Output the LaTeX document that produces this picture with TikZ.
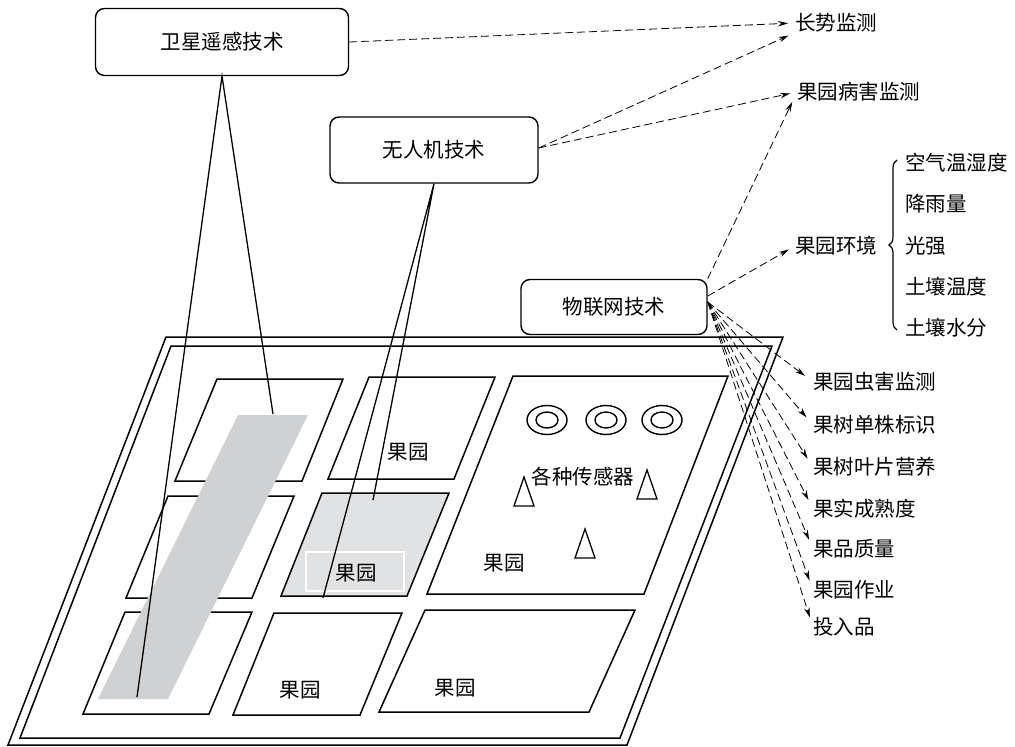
\documentclass[tikz,border=0pt]{standalone}
\usepackage{fontspec}
\setmainfont{Noto Sans CJK SC}
\usetikzlibrary{arrows.meta,decorations.pathreplacing}
\definecolor{stripgray}{RGB}{208,209,211}
\definecolor{plotgray}{RGB}{225,226,228}
\tikzset{
  techbox/.style={draw,line width=1.4pt,rounded corners=9pt},
  plot/.style={draw,line width=1.5pt},
  feed/.style={line width=1.3pt},
  link/.style={line width=0.8pt,dash pattern=on 8pt off 4pt,-{Stealth[length=10pt,width=5.5pt]},shorten >=7pt},
  item/.style={anchor=west,inner sep=0pt},
}
\begin{document}
\begin{tikzpicture}[x=1pt,y=-1pt]\fontsize{20.5}{24}\selectfont
\useasboundingbox (0,0) rectangle (1015,747);
\node[techbox,minimum width=253pt,minimum height=67pt] (sat) at (222,42) {卫星遥感技术};
\node[techbox,minimum width=208pt,minimum height=66pt] (uav) at (434,150) {无人机技术};
\node[techbox,minimum width=186pt,minimum height=55pt] (iot) at (614,307) {物联网技术};
% frame
\draw[plot] (166,337) -- (783,337) -- (627,745) -- (8,745) -- cycle;
\draw[plot] (171,346) -- (772,346) -- (620,738) -- (20,738) -- cycle;
% plots
\draw[plot] (217,379) -- (343,379) -- (302,481) -- (175,481) -- cycle;
\draw[plot] (369,377) -- (495,377) -- (454,479) -- (328,479) -- cycle;
\draw[plot] (513,376) -- (728,376) -- (644,594) -- (427,594) -- cycle;
\draw[plot] (168,496) -- (294,496) -- (252,598) -- (126,598) -- cycle;
\draw[plot,fill=plotgray] (322,493) -- (449,493) -- (407,596) -- (281,596) -- cycle;
\draw[plot] (125,612) -- (252,612) -- (209,714) -- (83,714) -- cycle;
\draw[plot] (274,613) -- (402,613) -- (360,715) -- (233,715) -- cycle;
\draw[plot] (425,610) -- (635,610) -- (589,712) -- (379,712) -- cycle;
\fill[stripgray] (238,415) -- (308,415) -- (168,699) -- (98,699) -- cycle;
\draw[white,line width=1.2pt] (306,552) rectangle (404,591);
\foreach \x/\y in {408/452,504/563,356/573,300/690,455/688} \node at (\x,\y) {果园};
% sensors
\foreach \x in {547,606,662} {
  \draw[line width=1.4pt] (\x,420) ellipse (20 and 14.5);
  \draw[line width=1.4pt] (\x,420) ellipse (11 and 8);
}
\foreach \x/\y in {524/477,647/470,585/529} \draw[line width=1.3pt] (\x,\y) -- ++(-10,29) -- ++(20,0) -- cycle;
\node at (583,477) {各种传感器};
% lines to the ground
\coordinate (sat-a) at (273,414);
\coordinate (sat-b) at (137,697);
\coordinate (uav-a) at (373,500);
\coordinate (uav-b) at (323,598);
\draw[feed] (sat-a) -- (sat.south) -- (sat-b);
\draw[feed] (uav-a) -- (uav.south) -- (uav-b);
% outputs
\node[item] (grow) at (795,23) {长势监测};
\node[item] (disease) at (797,92) {果园病害监测};
\node[item] (env) at (795,246) {果园环境};
\foreach \t [count=\i] in {空气温湿度,降雨量,光强,土壤温度,土壤水分}
  \node[item] (env\i) at (905,{163+41.2*(\i-1)}) {\t};
\draw[line width=1.2pt,decorate,decoration={brace,amplitude=8pt}] (897,330) -- (897,160);
\foreach \t/\y [count=\i] in {果园虫害监测/382,果树单株标识/425,果树叶片营养/467,果实成熟度/509,果品质量/549,果园作业/590,投入品/627}
  \node[item] (out\i) at (813,\y) {\t};
\draw[link] (sat.east) -- (grow.west);
\draw[link] ([yshift=2pt]uav.east) -- (grow.south west);
\draw[link] ([yshift=2pt]uav.east) -- (disease.west);
\draw[link,shorten >=11pt] (iot.north east) -- (disease.west);
\draw[link] ([yshift=11pt]iot.east) -- (env.west);
\coordinate (iot-fan) at ([yshift=5pt]iot.east);
\foreach \i in {1,...,7} \draw[link,shorten >=10pt] (iot-fan) -- (out\i.west);
\end{tikzpicture}
\end{document}
